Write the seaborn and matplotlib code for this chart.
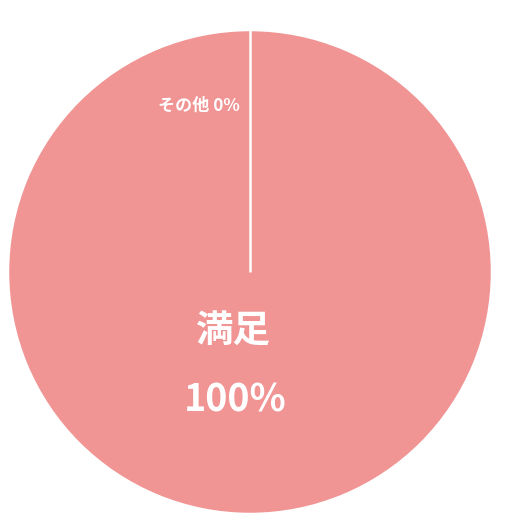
import matplotlib
matplotlib.use("Agg")
import numpy as np
import matplotlib.pyplot as plt
import seaborn as sns

# data
categories = ["その他", "満足"]
shares = [0, 100]
slice_colors = ["#F09494", "#F09494"]

sns.set_theme(style="white")
plt.rcParams['font.family'] = ['Noto Sans CJK JP', 'DejaVu Sans']

fig = plt.figure(figsize=(5.3, 5.3), dpi=100)
ax = fig.add_axes([0, 0, 1, 1])

wedges, _ = ax.pie(shares, colors=slice_colors, startangle=90, counterclock=False,
                   center=(250, 258), radius=242, frame=True,
                   wedgeprops=dict(edgecolor="white", linewidth=1.8))
ax.set_xlim(0, 530)
ax.set_ylim(0, 530)
ax.set_aspect("equal")
ax.axis("off")

# the zero slice collapses to a single edge: draw it as a white radius
w0 = wedges[0]
cx, cy = w0.center
ang = np.deg2rad(w0.theta1)
ax.plot([cx, cx + w0.r * np.cos(ang)], [cy, cy + w0.r * np.sin(ang)],
        color="white", lw=1.8, solid_capstyle="butt")

ax.text(199, 424, f"{categories[0]} {shares[0]}%", color="white", fontsize=12.3,
        fontweight="bold", ha="center", va="center")
ax.text(233, 200, categories[1], color="white", fontsize=27,
        fontweight="bold", ha="center", va="center")
ax.text(235, 130, f"{shares[1]}%", color="white", fontsize=27,
        fontweight="bold", ha="center", va="center")

fig.savefig("out.png", dpi=100, facecolor="white")
